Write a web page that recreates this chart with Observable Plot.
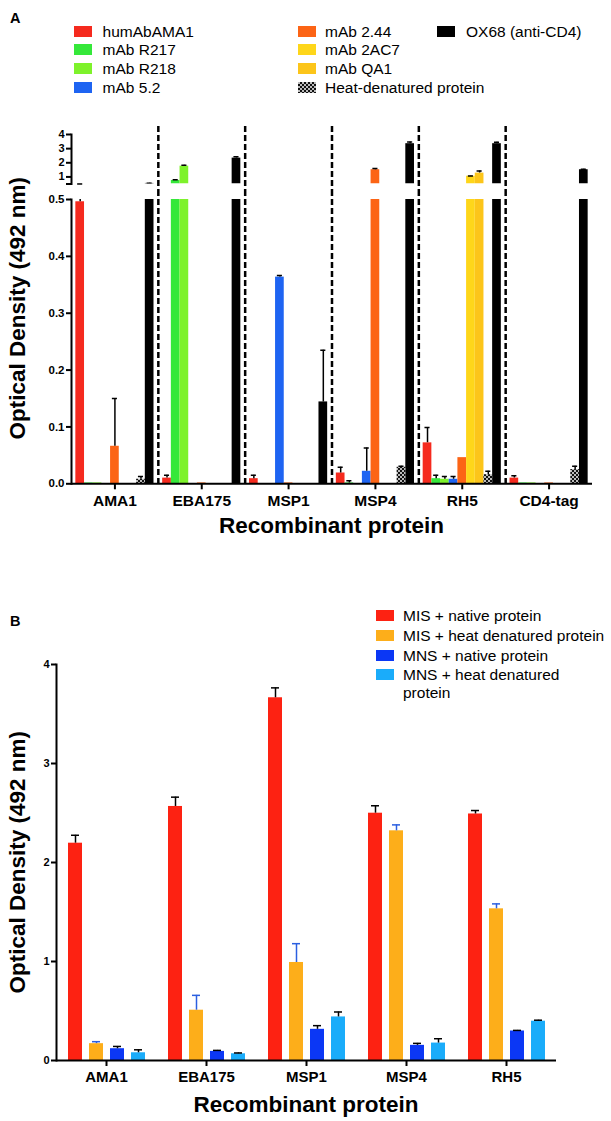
<!DOCTYPE html>
<html><head><meta charset="utf-8">
<script src="https://cdn.jsdelivr.net/npm/d3@7"></script>
<script src="https://cdn.jsdelivr.net/npm/@observablehq/plot@0.6"></script>
<style>
html,body{margin:0;padding:0;background:#fff;}
#root{position:relative;width:611px;height:1121px;overflow:hidden;font-family:"Liberation Sans",Arial,sans-serif;color:#000;background:#fff;}
.txt{position:absolute;white-space:nowrap;line-height:1;}
.sw{position:absolute;width:18px;height:11px;}
.ttl{position:absolute;font-weight:bold;white-space:nowrap;text-align:center;line-height:1;width:400px;}
</style></head><body><div id="root"></div>
<script>
// ---------- Panel A data ----------
const groupsA = ["AMA1", "EBA175", "MSP1", "MSP4", "RH5", "CD4-tag"];
const seriesA = ["humAbAMA1", "mAb R217", "mAb R218", "mAb 5.2", "mAb 2.44", "mAb 2AC7", "mAb QA1", "Heat-denatured protein", "OX68 (anti-CD4)"];
const colorsA = ["#f52a1e", "#35e83a", "#7ef22b", "#1e64f2", "#fc6415", "#fed61a", "#fcc51a", "checker", "#000000"];
// values per series, in group order (AMA1, EBA175, MSP1, MSP4, RH5, CD4-tag)
const humAbAMA1    = [0.496, 0.010, 0.009, 0.019, 0.072, 0.010];
const humAbAMA1Err = [0.006, 0.005, 0.006, 0.010, 0.027, 0.004];
const mAbR217      = [0.0015, 0.75, 0, 0.0015, 0.009, 0.0015];
const mAbR217Err   = [0, 0.05, 0, 0.004, 0.006, 0];
const mAbR218      = [0.0015, 1.76, 0, 0, 0.008, 0.0015];
const mAbR218Err   = [0, 0.06, 0, 0, 0.005, 0];
const mAb52        = [0, 0, 0.3635, 0.022, 0.008, 0];
const mAb52Err     = [0, 0, 0.003, 0.041, 0.005, 0];
const mAb244       = [0.066, 0.0015, 0.0015, 1.51, 0.046, 0.0015];
const mAb244Err    = [0.084, 0, 0, 0.08, 0, 0];
const mAb2AC7      = [0, 0, 0, 0, 1.05, 0];
const mAb2AC7Err   = [0, 0, 0, 0, 0.02, 0];
const mAbQA1       = [0, 0, 0, 0, 1.27, 0];
const mAbQA1Err    = [0, 0, 0, 0, 0.15, 0];
const heatDen      = [0.008, 0, 0, 0.029, 0.016, 0.025];
const heatDenErr   = [0.005, 0, 0, 0.002, 0.006, 0.006];
const ox68         = [0.54, 2.33, 0.144, 3.35, 3.35, 1.51];
const ox68Err      = [0.01, 0.1, 0.091, 0.12, 0.1, 0.03];
const valuesA = [humAbAMA1, mAbR217, mAbR218, mAb52, mAb244, mAb2AC7, mAbQA1, heatDen, ox68];
const errsA = [humAbAMA1Err, mAbR217Err, mAbR218Err, mAb52Err, mAb244Err, mAb2AC7Err, mAbQA1Err, heatDenErr, ox68Err];
const ticksAUpper = [0.5, 1, 2, 3, 4];
const ticksALower = [0, 0.1, 0.2, 0.3, 0.4, 0.5];
const breakA = 0.5;

// ---------- Panel B data ----------
const groupsB = ["AMA1", "EBA175", "MSP1", "MSP4", "RH5"];
const seriesB = ["MIS + native protein", "MIS + heat denatured protein", "MNS + native protein", "MNS + heat denatured protein"];
const colorsB = ["#fd2212", "#fdae1a", "#0b37f5", "#1aacfa"];
const errColorsB = ["#000000", "#2b5fe0", "#000000", "#000000"];
const misNative    = [2.195, 2.566, 3.664, 2.498, 2.49];
const misNativeErr = [0.08, 0.094, 0.1, 0.075, 0.035];
const misHeat      = [0.17, 0.508, 0.99, 2.32, 1.532];
const misHeatErr   = [0.02, 0.15, 0.19, 0.06, 0.05];
const mnsNative    = [0.119, 0.092, 0.315, 0.153, 0.298];
const mnsNativeErr = [0.023, 0.01, 0.037, 0.02, 0.006];
const mnsHeat      = [0.078, 0.068, 0.44, 0.176, 0.397];
const mnsHeatErr   = [0.03, 0.008, 0.05, 0.044, 0.01];
const valuesB = [misNative, misHeat, mnsNative, mnsHeat];
const errsB = [misNativeErr, misHeatErr, mnsNativeErr, mnsHeatErr];
const ticksB = [0, 1, 2, 3, 4];

const FONT = "Liberation Sans, Arial, sans-serif";
const root = document.getElementById("root");

function addText(txt, x, baseline, fs, bold) {
  const d = document.createElement("div");
  d.className = "txt";
  d.textContent = txt;
  d.style.left = x + "px";
  d.style.top = (baseline - 0.8465 * fs) + "px";
  d.style.fontSize = fs + "px";
  if (bold) d.style.fontWeight = "bold";
  root.appendChild(d);
}
function addSwatch(x, baseline, color) {
  const d = document.createElement("div");
  d.className = "sw";
  d.style.left = x + "px";
  d.style.top = (baseline - 11) + "px";
  if (color === "checker") {
    d.style.background = "conic-gradient(#111 25%, #bbb 0 50%, #111 0 75%, #bbb 0) 0 0/4px 4px";
  } else d.style.background = color;
  root.appendChild(d);
}
function addTitle(txt, cx, capTop, fs) {
  const d = document.createElement("div");
  d.className = "ttl";
  d.textContent = txt;
  d.style.fontSize = fs + "px";
  d.style.left = (cx - 200) + "px";
  d.style.top = (capTop + 0.716 * fs - 0.8465 * fs) + "px";
  root.appendChild(d);
}
function addYTitle(txt, cx, cy, fs) {
  const d = document.createElement("div");
  d.className = "ttl";
  d.textContent = txt;
  d.style.fontSize = fs + "px";
  d.style.left = (cx - 200) + "px";
  d.style.top = (cy - fs / 2) + "px";
  d.style.transform = "rotate(-90deg)";
  d.style.transformOrigin = "50% 50%";
  root.appendChild(d);
}
function addPattern(svg, id) {
  const ns = "http://www.w3.org/2000/svg";
  const defs = document.createElementNS(ns, "defs");
  const p = document.createElementNS(ns, "pattern");
  p.setAttribute("id", id);
  p.setAttribute("patternUnits", "userSpaceOnUse");
  p.setAttribute("width", "4"); p.setAttribute("height", "4");
  const bg = document.createElementNS(ns, "rect");
  bg.setAttribute("width", "4"); bg.setAttribute("height", "4"); bg.setAttribute("fill", "#bbb");
  p.appendChild(bg);
  for (const [x, y] of [[0, 0], [2, 2]]) {
    const r = document.createElementNS(ns, "rect");
    r.setAttribute("x", x); r.setAttribute("y", y);
    r.setAttribute("width", "2"); r.setAttribute("height", "2"); r.setAttribute("fill", "#111");
    p.appendChild(r);
  }
  defs.appendChild(p);
  svg.insertBefore(defs, svg.firstChild);
}
function place(svg, top) {
  svg.style.position = "absolute";
  svg.style.left = "0px";
  svg.style.top = top + "px";
  svg.style.background = "transparent";
  root.appendChild(svg);
}

// ---------- Panel A rows ----------
const rowsA = [];
groupsA.forEach((g, gi) => seriesA.forEach((s, si) => rowsA.push({
  group: g, series: s, key: g + "|" + s, value: valuesA[si][gi], err: errsA[si][gi], color: colorsA[si]
})));
const slotsA = [];
groupsA.forEach((g, gi) => {
  seriesA.forEach(s => slotsA.push(g + "|" + s));
  if (gi < groupsA.length - 1) slotsA.push(g + "|sep");
});
const sepA = groupsA.slice(0, -1).map(g => g + "|sep");
const tickKeysA = groupsA.map(g => g + "|" + seriesA[4]);

function barMarksA(rows, base, patId) {
  const solid = rows.filter(d => d.color !== "checker");
  const heat = rows.filter(d => d.color === "checker");
  const errRows = rows.filter(d => d.err > 0);
  return [
    Plot.barY(solid, {x: "key", y1: () => base, y2: "value", fill: "color", clip: true}),
    Plot.barY(heat, {x: "key", y1: () => base, y2: "value", fill: `url(#${patId})`, clip: true}),
    Plot.ruleX(errRows, {x: "key", y1: d => Math.max(d.value, base), y2: d => d.value + d.err, stroke: "#000", strokeWidth: 1.5, clip: true}),
    Plot.tickY(errRows, {x: "key", y: d => d.value + d.err, stroke: "#000", strokeWidth: 1.5, insetLeft: 1.8, insetRight: 1.8, clip: true})
  ];
}
const xA = {domain: slotsA, paddingInner: 0, paddingOuter: 0.5, axis: null};

// upper segment: only what rises above the axis break
const upperRows = rowsA.filter(d => d.value > breakA || d.value + d.err > breakA)
  .map(d => d.value > breakA ? d : {...d, value: breakA, err: d.value + d.err - breakA});
const upperBars = upperRows.filter(d => d.value > breakA);
const upperErrOnly = upperRows.filter(d => !(d.value > breakA));

const upperA = Plot.plot({
  width: 611, height: 65, marginTop: 9, marginBottom: 6.5, marginLeft: 71, marginRight: 19,
  style: {fontFamily: FONT, background: "transparent", color: "#000"},
  x: xA,
  y: {domain: [breakA, 4], axis: null},
  marks: [
    Plot.ruleX(sepA, {x: d => d, stroke: "#000", strokeWidth: 2.5, strokeDasharray: "6,3", insetTop: -8, insetBottom: -6.5}),
    ...barMarksA(upperBars, breakA, "chkA1"),
    Plot.tickY(upperErrOnly, {x: "key", y: d => d.value + d.err, stroke: "#000", strokeWidth: 1.5, insetLeft: 1.8, insetRight: 1.8}),
    Plot.axisY(ticksAUpper, {tickFormat: d => d === breakA ? "" : String(d), tickSize: 5, tickPadding: 2, strokeWidth: 2, fontSize: 11, fontWeight: "bold", label: null}),
    Plot.frame({anchor: "left", strokeWidth: 2})
  ]
});
addPattern(upperA, "chkA1");
place(upperA, 125);

const lowerA = Plot.plot({
  width: 611, height: 355, marginTop: 9, marginBottom: 61.7, marginLeft: 71, marginRight: 19,
  style: {fontFamily: FONT, background: "transparent", color: "#000"},
  x: xA,
  y: {domain: [0, breakA], axis: null},
  marks: [
    Plot.ruleX(sepA, {x: d => d, stroke: "#000", strokeWidth: 2.5, strokeDasharray: "6,3", insetTop: -9}),
    ...barMarksA(rowsA, 0, "chkA2"),
    Plot.ruleY([0], {stroke: "#000", strokeWidth: 2}),
    Plot.axisY(ticksALower, {tickFormat: ".1f", tickSize: 5, tickPadding: 2, strokeWidth: 2, fontSize: 11.5, fontWeight: "bold", label: null}),
    Plot.axisX(tickKeysA, {tickFormat: k => k.split("|")[0], tickSize: 6, tickPadding: 5, strokeWidth: 2, fontSize: 15.5, fontWeight: "bold", label: null}),
    Plot.frame({anchor: "left", strokeWidth: 2})
  ]
});
addPattern(lowerA, "chkA2");
place(lowerA, 190);

// ---------- Panel B ----------
const rowsB = [];
groupsB.forEach((g, gi) => seriesB.forEach((s, si) => rowsB.push({
  group: g, series: s, value: valuesB[si][gi], err: errsB[si][gi], color: colorsB[si], errColor: errColorsB[si]
})));
const plotB = Plot.plot({
  width: 611, height: 466, marginTop: 9, marginBottom: 61, marginLeft: 55, marginRight: 54,
  style: {fontFamily: FONT, background: "transparent", color: "#000"},
  fx: {domain: groupsB, paddingInner: 0, paddingOuter: 0},
  x: {domain: seriesB, paddingInner: 0.35, paddingOuter: 0.5, axis: null},
  y: {domain: [0, 4], axis: null},
  marks: [
    Plot.barY(rowsB, {fx: "group", x: "series", y: "value", fill: "color"}),
    Plot.ruleX(rowsB, {fx: "group", x: "series", y1: "value", y2: d => d.value + d.err, stroke: "errColor", strokeWidth: 1.5}),
    Plot.tickY(rowsB, {fx: "group", x: "series", y: d => d.value + d.err, stroke: "errColor", strokeWidth: 1.5, insetLeft: 3, insetRight: 3}),
    Plot.ruleY([0], {stroke: "#000", strokeWidth: 2}),
    Plot.axisY(ticksB, {tickFormat: d => String(d), tickSize: 5, tickPadding: 2, strokeWidth: 2, fontSize: 11, fontWeight: "bold", label: null}),
    Plot.axisFx({anchor: "bottom", tickSize: 6, tickPadding: 5, strokeWidth: 2, fontSize: 15, fontWeight: "bold", label: null}),
    Plot.frame({anchor: "left", facetAnchor: "left", strokeWidth: 2})
  ]
});
place(plotB, 655);

// ---------- Text: labels, legends, titles ----------
addText("A", 10, 23.6, 14.5, true);
addText("B", 10, 626.7, 14.5, true);

const legBaseA = [36.7, 55.3, 74, 92.7];
const legColA = [[74.4, 102.6], [297.7, 325], [436.7, 466]];
const legLayoutA = [[0, 0], [0, 1], [0, 2], [0, 3], [1, 0], [1, 1], [1, 2], [1, 3], [2, 0]];
seriesA.forEach((s, i) => {
  const [c, r] = legLayoutA[i];
  addSwatch(legColA[c][0], legBaseA[r], colorsA[i]);
  addText(s, legColA[c][1], legBaseA[r], 15.5, false);
});

const legBaseB = [621, 641, 661, 680];
seriesB.forEach((s, i) => {
  addSwatch(376, legBaseB[i], colorsB[i]);
  if (i === 3) {
    addText("MNS + heat denatured", 403, legBaseB[i], 15.5, false);
    addText("protein", 403, 698, 15.5, false);
  } else addText(s, 403, legBaseB[i], 15.5, false);
});

addYTitle("Optical Density (492 nm)", 17.5, 308.7, 22.5);
addTitle("Recombinant protein", 331.5, 518, 22.5);
addYTitle("Optical Density (492 nm)", 17.5, 862, 22.5);
addTitle("Recombinant protein", 306, 1096.7, 22.5);
</script></body></html>
